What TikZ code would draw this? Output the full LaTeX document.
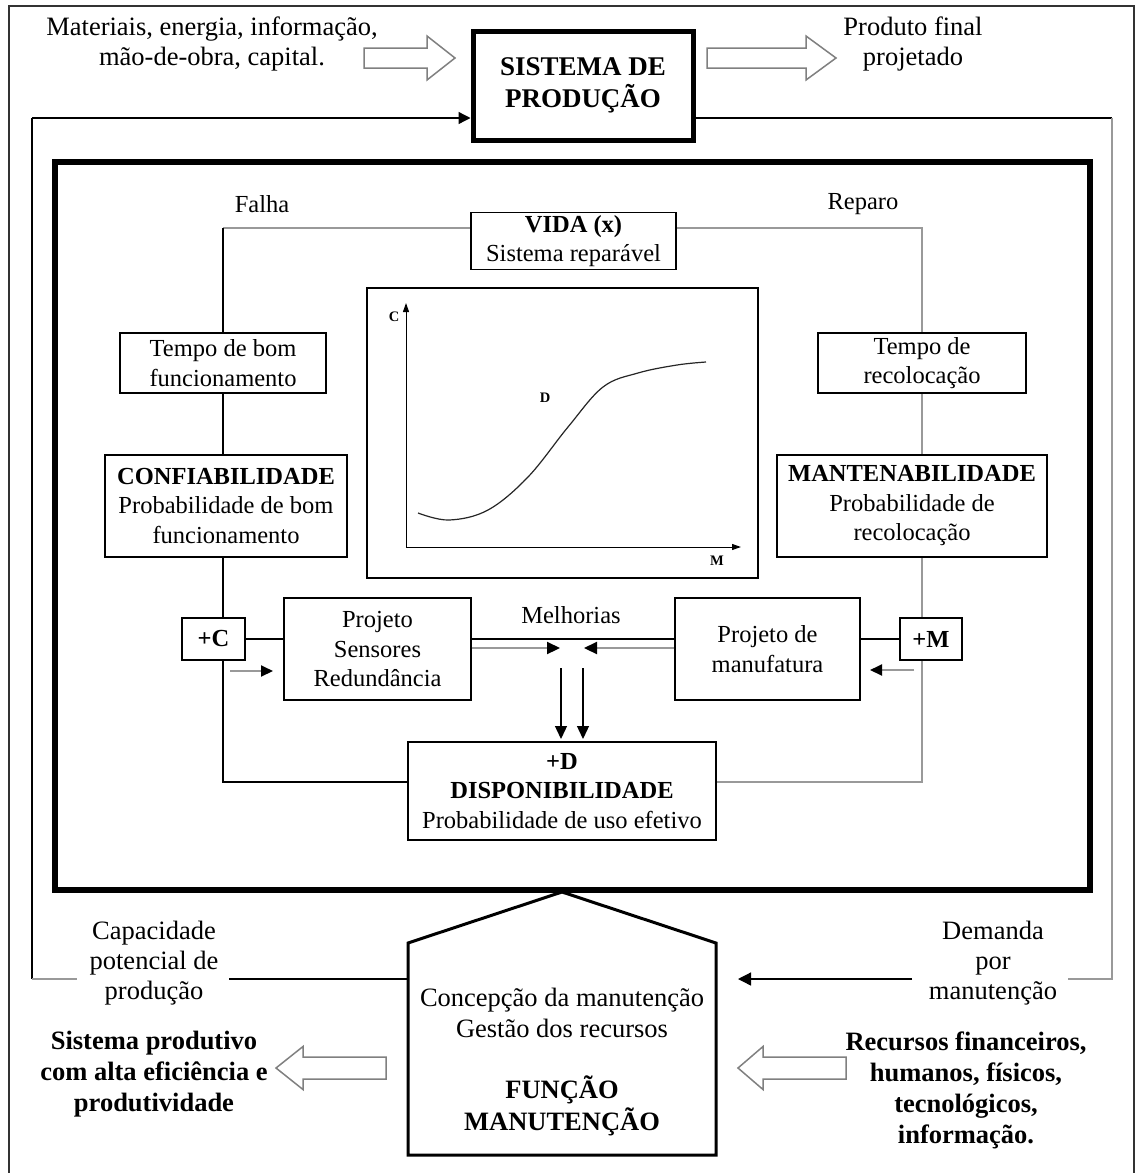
\documentclass[tikz,border=0pt]{standalone}
\usepackage{fontspec}
\setmainfont{Liberation Serif}
\usetikzlibrary{arrows.meta,backgrounds}

\tikzset{
  txtout/.style={align=center, inner sep=0pt, font=\fontsize{26.5}{30}\selectfont},
  txtoutb/.style={align=center, inner sep=0pt, font=\bfseries\fontsize{26.5}{31}\selectfont},
  txtin/.style={align=center, inner sep=0pt, font=\fontsize{24.5}{29}\selectfont},
  cbox/.style={draw=black, line width=1.3pt, fill=white, align=center, inner sep=0pt,
               font=\fontsize{24.5}{29.5}\selectfont},
  darkline/.style={draw=black, line width=1.3pt},
  greyline/.style={draw=black!40, line width=2.2pt},
  hollow/.style={draw=black!50, line width=1.5pt, fill=white, line join=miter},
  blacktip/.style={-{Triangle[length=13pt,width=12pt,color=black]}},
  smalltip/.style={-{Triangle[length=12pt,width=11pt,color=black]}},
  axistip/.style={-{Triangle[length=9pt,width=6pt,color=black]}},
  chartlbl/.style={inner sep=0pt, font=\bfseries\fontsize{14.5}{15}\selectfont},
}

\begin{document}
\begin{tikzpicture}[x=1pt, y=-1pt]
\useasboundingbox (0,0) rectangle (1140,1173);

% page frame (open at the bottom)
\draw[black!80, line width=1.5pt] (9,1190) -- (9,6) -- (1134,6) -- (1134,1190);

% ---------- production system row ----------
\node[txtout] (inp) at (212,44) {Materiais, energia, informação,\\mão-de-obra, capital.};
\node[draw, line width=5pt, minimum width=220pt, minimum height=109pt, inner sep=0pt,
      align=center, font=\bfseries\fontsize{27}{32}\selectfont] (sys) at (583,85.5)
      {SISTEMA DE\\PRODUÇÃO};
\node[txtout] (outp) at (913,44) {Produto final\\projetado};

% block arrows into and out of the production system
\draw[hollow] (364,48) -- (427,48) -- (427,36) -- (455,58) -- (427,80) -- (427,68) -- (364,68) -- cycle;
\draw[hollow] (707,48) -- (806,48) -- (806,36) -- (836,58) -- (806,80) -- (806,68) -- (707,68) -- cycle;

% ---------- availability diagram ----------
\node[draw, line width=6pt, minimum width=1035pt, minimum height=728pt, inner sep=0pt] (inner) at (572.5,526) {};

\node[txtin] (falha) at (262,204) {Falha};
\node[txtin] (reparo) at (863,204) {Reparo};

\node[cbox, minimum width=205pt, minimum height=57pt] (vida) at (573.5,241)
      {\textbf{VIDA (x)}\\Sistema reparável};

\node[cbox, minimum width=206pt, minimum height=60pt] (tbf) at (223,363) {Tempo de bom\\funcionamento};
\node[cbox, minimum width=242pt, minimum height=102pt] (conf) at (226,506)
      {\textbf{CONFIABILIDADE}\\Probabilidade de bom\\funcionamento};
\node[cbox, minimum width=208pt, minimum height=60pt] (trec) at (922,363) {Tempo de\\recolocação};
\node[cbox, minimum width=270pt, minimum height=102pt] (mant) at (912,506)
      {\textbf{MANTENABILIDADE}\\Probabilidade de\\recolocação};

% availability curve
\node[draw=black, line width=1.3pt, fill=white, minimum width=391pt, minimum height=290pt, inner sep=0pt] (chart) at (562.5,433) {};
\coordinate (orig) at (406,547);
\coordinate (ytop) at (406,303);
\coordinate (xend) at (741,547);
\draw[line width=1pt, axistip] (orig) -- (ytop);
\draw[line width=1pt, axistip] (orig) -- (xend);
\node[chartlbl] (lc) at (394,317) {C};
\node[chartlbl] (lm) at (717,561) {M};
\node[chartlbl] (ld) at (545,398) {D};
\draw[line width=1.2pt, black!85] plot[smooth, tension=0.6] coordinates
  {(418,513) (449,520) (488,510) (528,477) (568,427) (603,387) (638,373) (677,365) (706,362)};

\node[cbox, font=\bfseries\fontsize{24.5}{29}\selectfont, minimum width=63pt, minimum height=42pt] (pc) at (213.5,639) {+C};
\node[cbox, font=\bfseries\fontsize{24.5}{29}\selectfont, minimum width=62pt, minimum height=42pt] (pm) at (931,639) {+M};
\node[cbox, minimum width=187pt, minimum height=102pt] (proj) at (377.5,649) {Projeto\\Sensores\\Redundância};
\node[cbox, minimum width=185pt, minimum height=102pt] (manuf) at (767.5,649) {Projeto de\\manufatura};
\node[txtin] (melh) at (571,615) {Melhorias};

\node[cbox, minimum width=308pt, minimum height=98pt] (disp) at (562,791)
      {\textbf{+D}\\\textbf{DISPONIBILIDADE}\\Probabilidade de uso efetivo};

% improvement links
\draw[darkline] (pc.east) -- (proj.west |- pc.east);
\draw[darkline] (proj.east |- pc.east) -- (manuf.west |- pc.east);
\draw[darkline] (manuf.east |- pm.west) -- (pm.west);
\coordinate (mL) at (560,648);
\coordinate (mR) at (584,648);
\draw[greyline, blacktip] (proj.east |- mL) -- (mL);
\draw[greyline, blacktip] (manuf.west |- mR) -- (mR);
\coordinate (dA) at (561,668);
\coordinate (dB) at (583,668);
\coordinate (dAe) at (561,739);
\coordinate (dBe) at (583,739);
\draw[darkline, blacktip] (dA) -- (dAe);
\draw[darkline, blacktip] (dB) -- (dBe);
\coordinate (cA) at (230,671);
\coordinate (cAe) at (273,671);
\coordinate (cB) at (914,670);
\coordinate (cBe) at (870,670);
\draw[greyline, line width=2pt, smalltip] (cA) -- (cAe);
\draw[greyline, line width=2pt, smalltip] (cB) -- (cBe);

% life cycle loop behind the boxes
\begin{scope}[on background layer]
  \coordinate (lt) at (223,228);
  \coordinate (lb) at (223,782);
  \coordinate (rt) at (922,228);
  \coordinate (rb) at (922,782);
  \draw[greyline, line width=2pt] (vida.west |- lt) -- (lt);
  \draw[darkline] (lt) -- (lb) -- (disp.west |- lb);
  \draw[greyline, line width=2pt] (vida.east |- rt) -- (rt) -- (rb) -- (disp.east |- rb);
\end{scope}

% ---------- maintenance function ----------
\coordinate (hbl) at (408,1155);
\coordinate (hl) at (408,943);
\coordinate (apex) at (562,892);
\coordinate (hr) at (716,943);
\coordinate (hbr) at (716,1155);
\draw[line width=3pt, line join=miter] (hbl) -- (hl) -- (apex) -- (hr) -- (hbr) -- cycle;
\node[txtout, font=\fontsize{26.5}{31}\selectfont] (conc) at (562,1012.5) {Concepção da manutenção\\Gestão dos recursos};
\node[txtoutb, font=\bfseries\fontsize{26.5}{32}\selectfont] (func) at (562,1106) {FUNÇÃO\\MANUTENÇÃO};

\node[txtout] (cap) at (154,963) {Capacidade\\potencial de\\produção};
\node[txtout] (dem) at (993,963) {Demanda\\por\\manutenção};
\node[txtoutb] (sprod) at (154,1074) {Sistema produtivo\\com alta eficiência e\\produtividade};
\node[txtoutb] (recs) at (966,1090) {Recursos financeiros,\\humanos, físicos,\\tecnológicos,\\informação.};

% feedback lines between the production system and maintenance
\coordinate (fb) at (32,118);
\coordinate (fbl) at (32,979);
\coordinate (fbr) at (1112,979);
\coordinate (fbrt) at (1112,118);
\coordinate (capL) at (77,979);
\coordinate (capR) at (229,979);
\coordinate (demL) at (1068,979);
\coordinate (demR) at (912,979);
\coordinate (demT) at (738,979);
\draw[darkline, -{Triangle[length=12pt,width=12pt]}] (fb) -- (sys.west |- fb);
\draw[darkline] (fb) -- (fbl);
\draw[greyline, line width=2pt] (fbl) -- (capL);
\draw[darkline] (capR) -- (hl |- fbl);
\draw[darkline] (sys.east |- fb) -- (fbrt);
\draw[greyline, line width=2pt] (fbrt) -- (fbr) -- (demL);
\draw[darkline, -{Triangle[length=13pt,width=13pt]}] (demR) -- (demT);

% block arrows of the maintenance function
\draw[hollow] (386,1057) -- (303,1057) -- (303,1046.5) -- (276,1068) -- (303,1089.5) -- (303,1079) -- (386,1079) -- cycle;
\draw[hollow] (846,1057) -- (763,1057) -- (763,1046.5) -- (738,1068) -- (763,1089.5) -- (763,1079) -- (846,1079) -- cycle;
\end{tikzpicture}
\end{document}
